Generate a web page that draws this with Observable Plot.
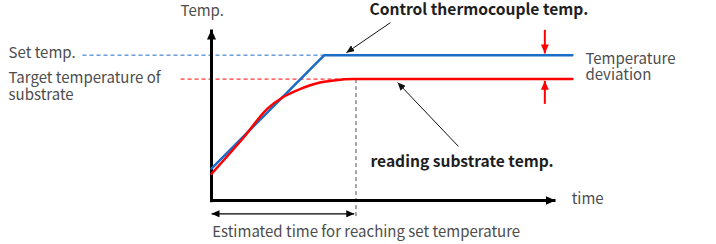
<!DOCTYPE html>
<html><head><meta charset="utf-8">
<script src="https://cdn.jsdelivr.net/npm/d3@7"></script>
<script src="https://cdn.jsdelivr.net/npm/@observablehq/plot@0.6"></script>
<style>body{margin:0;background:#fff}</style>
</head><body><div id="chart"></div>
<script>
// ---- data (abstract units: time 0..100, temperature 0..100) ----
const timeBlue = [0, 32.8, 104.9];
const tempBlue = [18.7, 85, 85];
const timeRed = [0, 9.4, 16.2, 21.1, 25.9, 30.7, 35.6, 41.4, 104.9];
const tempRed = [15.6, 37.0, 53.6, 60.8, 65.3, 68.6, 70.2, 71.0, 71.0];
const setTemp = [85];
const targetTemp = [71];
const reachTime = [42];
const labelsLeft = ["Set temp.", "Target temperature of", "substrate"];
const labelsAxis = ["Temp.", "time", "Estimated time for reaching set temperature"];
const labelsCallout = ["Control thermocouple temp.", "reading substrate temp.", "Temperature", "deviation"];

const blue = timeBlue.map((t, i) => ({t, v: tempBlue[i]}));
const red = timeRed.map((t, i) => ({t, v: tempRed[i]}));

const BLUE = "#1c6cc6", RED = "#ff0000", GRAY = "#4d4d4d", DARK = "#1e1e1e";
const FONT = "'Noto Sans CJK KR', 'Noto Sans', sans-serif";

function head(len, half) {
  return (color) => {
    const ns = "http://www.w3.org/2000/svg";
    const m = document.createElementNS(ns, "marker");
    m.setAttribute("viewBox", `${-len} ${-half} ${len} ${2 * half}`);
    m.setAttribute("markerWidth", len);
    m.setAttribute("markerHeight", 2 * half);
    m.setAttribute("markerUnits", "userSpaceOnUse");
    m.setAttribute("orient", "auto-start-reverse");
    m.setAttribute("refX", 0);
    m.setAttribute("refY", 0);
    const p = document.createElementNS(ns, "path");
    p.setAttribute("d", `M${-len},${-half}L0,0L${-len},${half}Z`);
    p.setAttribute("fill", color);
    p.setAttribute("stroke", "none");
    m.appendChild(p);
    return m;
  };
}

const S = setTemp[0], T = targetTemp[0], R = reachTime[0];

const txt = (s, x, y, o = {}) =>
  Plot.text([s], {x, y, text: d => d, textAnchor: "start", fill: GRAY, fontSize: 15, ...o});

const chart = Plot.plot({
  width: 716, height: 244,
  marginLeft: 211, marginRight: 161, marginTop: 29, marginBottom: 44,
  x: {domain: [0, 100], axis: null},
  y: {domain: [0, 100], axis: null},
  style: {fontFamily: FONT, background: "#fff", overflow: "visible"},
  marks: [
    // guide dashed lines
    Plot.link([0], {x1: -37.5, x2: timeBlue[1], y1: S, y2: S, stroke: BLUE, strokeWidth: 1, strokeDasharray: "4,3"}),
    Plot.link([0], {x1: -9, x2: R, y1: T, y2: T, stroke: RED, strokeWidth: 1, strokeDasharray: "4,3"}),
    Plot.link([0], {x1: R, x2: R, y1: T, y2: -9.4, stroke: GRAY, strokeWidth: 1, strokeDasharray: "4,3"}),
    // axes
    Plot.link([0], {x1: 0, y1: -1, x2: 0, y2: 100, stroke: "#000", strokeWidth: 3, markerEnd: head(10, 4.5)}),
    Plot.link([0], {x1: -0.4, y1: 0, x2: 100, y2: 0, stroke: "#000", strokeWidth: 3, markerEnd: head(10, 4.5)}),
    // series
    Plot.line(blue, {x: "t", y: "v", stroke: BLUE, strokeWidth: 2.5}),
    Plot.line(red, {x: "t", y: "v", stroke: RED, strokeWidth: 2.5, curve: "monotone-x"}),
    // estimated time double arrow
    Plot.link([0], {x1: 0, x2: R - 0.5, y1: -7.8, y2: -7.8, stroke: "#000", strokeWidth: 1.3, markerStart: head(8, 3.5), markerEnd: head(8, 3.5)}),
    // deviation arrows
    Plot.link([0], {x1: 96.9, x2: 96.9, y1: 99.8, y2: S + 1, stroke: RED, strokeWidth: 2, markerEnd: head(9, 4)}),
    Plot.link([0], {x1: 96.9, x2: 96.9, y1: 56.5, y2: T - 1, stroke: RED, strokeWidth: 2, markerEnd: head(9, 4)}),
    // callout arrows
    Plot.link([0], {x1: 52.0, y1: 104.0, x2: 39.2, y2: 86.4, stroke: "#111", strokeWidth: 1, markerEnd: head(8, 3.5)}),
    Plot.link([0], {x1: 71.8, y1: 31.6, x2: 54.1, y2: 69.0, stroke: "#111", strokeWidth: 1, markerEnd: head(8, 3.5)}),
    // labels
    txt(labelsLeft[0], -59, 86.0),
    txt(labelsLeft[1], -59, 71.6),
    txt(labelsLeft[2], -59, 61.6),
    txt(labelsAxis[0], -9, 111),
    txt(labelsAxis[1], 104.7, 0.5),
    txt(labelsAxis[2], 0.2, -18.5),
    txt(labelsCallout[0], 45.9, 111.6, {fill: DARK, fontSize: 15.6, fontWeight: "bold"}),
    txt(labelsCallout[1], 46.2, 22.4, {fill: DARK, fontSize: 15.6, fontWeight: "bold"}),
    txt(labelsCallout[2], 108.7, 82.8),
    txt(labelsCallout[3], 108.7, 73.5)
  ]
});
document.getElementById("chart").appendChild(chart);
</script>
</body></html>
